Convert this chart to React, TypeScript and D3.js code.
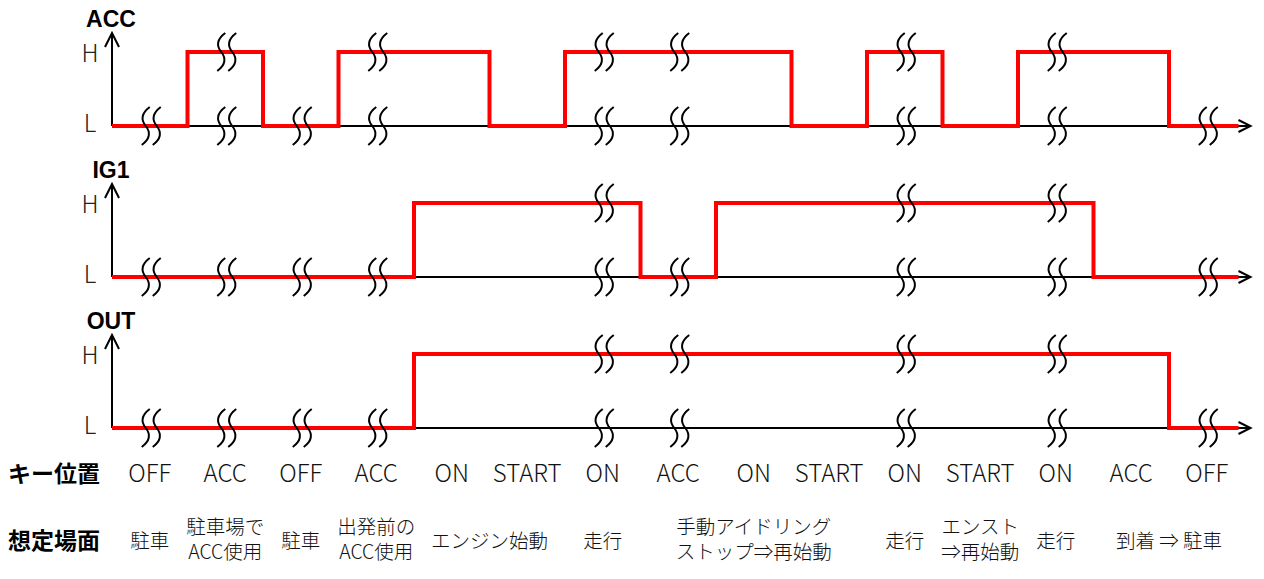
import React from 'react';
import * as d3 from 'd3';

// Key position per time segment
const keyPositions = ['OFF', 'ACC', 'OFF', 'ACC', 'ON', 'START', 'ON', 'ACC', 'ON', 'START', 'ON', 'START', 'ON', 'ACC', 'OFF'];

// Signal level per segment (1 = H, 0 = L)
const accLevels = [0, 1, 0, 1, 1, 0, 1, 1, 1, 0, 1, 0, 1, 1, 0];
const ig1Levels = [0, 0, 0, 0, 1, 1, 1, 0, 1, 1, 1, 1, 1, 0, 0];
const outLevels = [0, 0, 0, 0, 1, 1, 1, 1, 1, 1, 1, 1, 1, 1, 0];
const signalNames = ['ACC', 'IG1', 'OUT'];

// Segments that carry the "time skipped" break mark
const breakSegments = [0, 1, 2, 3, 6, 7, 10, 12, 14];

// Scene labels and where they sit (in segment units, center)
const sceneLabels = [
  ['駐車'],
  ['駐車場で', 'ACC使用'],
  ['駐車'],
  ['出発前の', 'ACC使用'],
  ['エンジン始動'],
  ['走行'],
  ['手動アイドリング', 'ストップ⇒再始動'],
  ['走行'],
  ['エンスト', '⇒再始動'],
  ['走行'],
  ['到着 ⇒ 駐車'],
];
const sceneCenters = [0.5, 1.5, 2.5, 3.5, 5, 6.5, 8.5, 10.5, 11.5, 12.5, 14];

const RED = '#ff0000';
const JP = "'Noto Sans CJK JP', 'Noto Sans', sans-serif";
const W = 1264;
const H = 579;

// break mark: one wavy stroke
function wave(cx: number, cy: number) {
  return `M${cx + 4},${cy - 19} Q${cx - 8},${cy - 10} ${cx},${cy} Q${cx + 8},${cy + 10} ${cx - 4},${cy + 19}`;
}

export default function App() {
  const levelsBySignal = [accLevels, ig1Levels, outLevels];
  const n = keyPositions.length;

  const x = d3.scaleLinear().domain([0, n]).range([112, 1244.5]);
  const rowBase = d3.scalePoint<string>().domain(signalNames).range([126, 428]);
  const levelGap = 74;

  const stepLine = d3.line<[number, number]>()
    .x(d => d[0])
    .y(d => d[1])
    .curve(d3.curveStepAfter);

  const xEnd = x(n);

  return (
    <svg width={W} height={H} style={{ position: 'absolute', left: 0, top: 0, background: '#fff' }}>
      {signalNames.map((name, r) => {
        const base = rowBase(name)!;
        const y = d3.scaleLinear().domain([0, 1]).range([base, base - levelGap]);
        const levels = levelsBySignal[r];
        const pts: [number, number][] = levels.map((v, i) => [x(i), y(v)] as [number, number]);
        pts.push([xEnd - 6, y(levels[n - 1])]);
        const top = y(1) - 20;
        return (
          <g key={name}>
            {/* title */}
            <text x={111} y={top - 5} textAnchor="middle" fontFamily="'Liberation Sans', Arial, sans-serif"
              fontWeight="bold" fontSize={23} fill="#000">{name}</text>
            {/* H / L labels */}
            <text x={90} y={y(1) + 3} textAnchor="middle" dominantBaseline="middle" fontFamily={JP}
              fontWeight={300} fontSize={24} fill="#222">H</text>
            <text x={90} y={y(0) - 1} textAnchor="middle" dominantBaseline="middle" fontFamily={JP}
              fontWeight={300} fontSize={24} fill="#222">L</text>
            {/* vertical axis */}
            <line x1={x(0)} x2={x(0)} y1={base} y2={top + 1} stroke="#000" strokeWidth={2} />
            <path d={`M${x(0) - 7},${top + 15} L${x(0)},${top + 1} L${x(0) + 7},${top + 15}`}
              fill="none" stroke="#000" strokeWidth={2} />
            {/* time axis */}
            <line x1={x(0)} x2={xEnd + 5} y1={base} y2={base} stroke="#000" strokeWidth={2} />
            <path d={`M${xEnd - 6},${base - 6} L${xEnd + 6},${base} L${xEnd - 6},${base + 6}`}
              fill="none" stroke="#000" strokeWidth={2} />
            {/* signal */}
            <path d={stepLine(pts) || ''} fill="none" stroke={RED} strokeWidth={4} strokeLinejoin="miter" />
            {/* break marks */}
            {breakSegments.map(s => {
              const cx = x(s + 0.5) + 1;
              const marks = [base];
              if (levels[s] === 1) marks.push(y(1));
              return marks.map(cy => (
                <g key={`${s}-${cy}`}>
                  <path d={wave(cx - 5, cy)} fill="none" stroke="#000" strokeWidth={2} />
                  <path d={wave(cx + 6, cy)} fill="none" stroke="#000" strokeWidth={2} />
                </g>
              ));
            })}
          </g>
        );
      })}

      {/* key positions */}
      <text x={8} y={482} fontFamily={JP} fontWeight="bold" fontSize={23} fill="#000">キー位置</text>
      {keyPositions.map((k, i) => (
        <text key={i} x={x(i + 0.5)} y={482} textAnchor="middle" fontFamily={JP} fontWeight={300}
          fontSize={24} fill="#111">{k}</text>
      ))}

      {/* scenes */}
      <text x={8} y={549} fontFamily={JP} fontWeight="bold" fontSize={23} fill="#000">想定場面</text>
      {sceneLabels.map((lines, i) => {
        const cx = x(sceneCenters[i]);
        const y0 = lines.length === 1 ? 548 : 534;
        return lines.map((l, j) => (
          <text key={`${i}-${j}`} x={cx} y={y0 + j * 25} textAnchor="middle" fontFamily={JP}
            fontWeight={300} fontSize={19.5} fill="#111">{l}</text>
        ));
      })}
    </svg>
  );
}
